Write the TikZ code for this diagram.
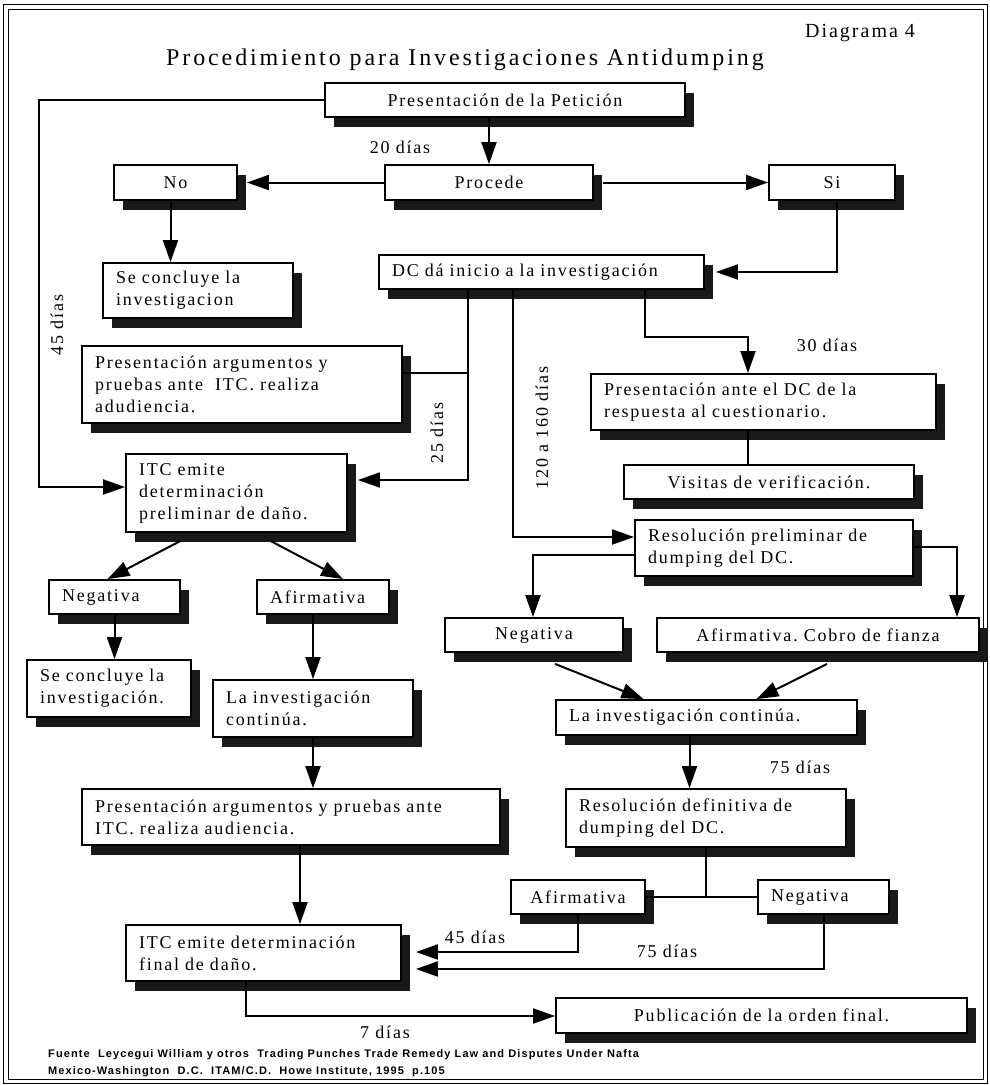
\documentclass[tikz,border=0pt]{standalone}
\usepackage{fontspec}
\setmainfont{Liberation Serif}
\setsansfont{Liberation Sans}
\usetikzlibrary{arrows.meta,shadows,calc}
\frenchspacing
\newcommand{\cajafont}{\fontsize{18}{22}\selectfont\addfontfeature{LetterSpace=10}}
\newcommand{\titulofont}{\fontsize{24}{28}\selectfont\addfontfeature{LetterSpace=12}}
\newcommand{\piefont}{\sffamily\bfseries\fontsize{11}{17}\selectfont\addfontfeature{LetterSpace=10}}
\tikzset{
  caja/.style={draw, line width=1.8pt, fill=white, inner xsep=13pt, inner ysep=0pt,
    drop shadow={shadow xshift=9pt, shadow yshift=-10pt, fill=black!90, opacity=1},
    font=\cajafont},
  flecha/.style={draw, line width=2pt, -{Triangle[length=22pt,width=15pt]}},
  linea/.style={draw, line width=2pt},
  dias/.style={font=\cajafont, inner sep=0pt}
}
\begin{document}
\begin{tikzpicture}[x=1pt,y=-1pt]
\useasboundingbox (0,0) rectangle (990,1085);
\draw[line width=1pt] (3,4) rectangle (987,1083);
\draw[line width=0.8pt] (8,9) rectangle (983,1079);

\node[font=\fontsize{20}{24}\selectfont\addfontfeature{LetterSpace=10}] (diag) at (860,33) {Diagrama 4};
\node[font=\titulofont] (titulo) at (465,60) {Procedimiento para Investigaciones Antidumping};

% cajas
\node[caja, text width=334pt, minimum height=34pt, align=center] (pet) at (505,100) {Presentación de la Petición};
\node[caja, text width=97pt, minimum height=35pt, align=center] (no) at (175.5,182.5) {No};
\node[caja, text width=182pt, minimum height=35pt, align=center] (proc) at (489,182.5) {Procede};
\node[caja, text width=100pt, minimum height=35pt, align=center] (si) at (832,182.5) {Si};
\node[caja, text width=164pt, minimum height=55pt, align=left] (conc1) at (198,290.5) {Se concluye la\\investigacion};
\node[caja, text width=299pt, minimum height=34pt, align=left] (dc) at (541.5,272) {DC dá inicio a la investigación};
\node[caja, text width=294pt, minimum height=77pt, align=left] (arg1) at (242,384.5) {Presentación argumentos y\\pruebas ante\ \ ITC. realiza\\adudiencia.};
\node[caja, text width=195pt, minimum height=78pt, align=left] (itc1) at (236.5,493) {ITC emite\\determinación\\preliminar de daño.};
\node[caja, text width=319pt, minimum height=56pt, align=left] (resp) at (763.5,402) {Presentación ante el DC de la\\respuesta al cuestionario.};
\node[caja, text width=264pt, minimum height=34pt, align=center] (vis) at (769,482) {Visitas de verificación.};
\node[caja, text width=252pt, minimum height=56pt, align=left] (res1) at (774,548) {Resolución preliminar de\\dumping del DC.};
\node[caja, text width=105pt, minimum height=34pt, align=left] (neg1) at (114.5,597) {Negativa};
\node[caja, text width=106pt, minimum height=34pt, align=left] (afi1) at (323,597) {Afirmativa};
\node[caja, text width=138pt, minimum height=57pt, align=left] (conc2) at (109,688.5) {Se concluye la\\investigación.};
\node[caja, text width=174pt, minimum height=57pt, align=left] (cont1) at (313,708.5) {La investigación\\continúa.};
\node[caja, text width=152pt, minimum height=34pt, align=center] (neg2) at (534,635) {Negativa};
\node[caja, text width=296pt, minimum height=34pt, align=center] (afi2) at (818,635) {Afirmativa. Cobro de fianza};
\node[caja, text width=275pt, minimum height=35pt, align=left] (cont2) at (706.5,717.5) {La investigación continúa.};
\node[caja, text width=392pt, minimum height=56pt, align=left] (arg2) at (291,817) {Presentación argumentos y pruebas ante\\ITC. realiza audiencia.};
\node[caja, text width=254pt, minimum height=58pt, align=left] (res2) at (706,818) {Resolución definitiva de\\dumping del DC.};
\node[caja, text width=108pt, minimum height=34pt, align=center] (afi3) at (578,897) {Afirmativa};
\node[caja, text width=105pt, minimum height=34pt, align=left] (neg3) at (823.5,897) {Negativa};
\node[caja, text width=249pt, minimum height=56pt, align=left] (itc2) at (263.5,953) {ITC emite determinación\\final de daño.};
\node[caja, text width=385pt, minimum height=35pt, align=center] (pub) at (761.5,1015.5) {Publicación de la orden final.};

% puntos de quiebre
\coordinate (k1) at (39,487);
\coordinate (k2) at (837,272);
\coordinate (k3) at (468,480);
\coordinate (k4) at (468,373);
\coordinate (k5) at (513,537);
\coordinate (k6) at (645,337);
\coordinate (k7) at (748,337);
\coordinate (k8) at (533,555);
\coordinate (k9) at (957,547);
\coordinate (k15) at (578,952);
\coordinate (k16) at (824,969);
\coordinate (k17) at (246,1016);
\coordinate (dcs) at ($(dc.east)+(11,0)$);
\coordinate (itc1s) at ($(itc1.east)+(10,0)$);
\coordinate (itc2s) at ($(itc2.east)+(14,0)$);

% conectores
\draw[flecha] (pet.west) -| (k1) -- (k1 -| itc1.west);
\draw[flecha] (pet.south -| proc.north) -- (proc.north);
\draw[flecha] (proc.west) -- ($(no.east)+(9,0)$);
\draw[flecha] ($(proc.east)+(9,0)$) -- (si.west);
\draw[flecha] ($(no.south)+(-5,0)$) coordinate (k0) -- (k0 |- conc1.north);
\draw[flecha] (si.south -| k2) -- (k2) -- (dcs);
\draw[flecha] (dc.south -| k3) -- (k3) -- (k3 -| itc1s);
\draw[linea] (k4 -| arg1.east) -- (k4);
\draw[flecha] (dc.south -| k5) -- (k5) -- (k5 -| res1.west);
\draw[flecha] (dc.south -| k6) -- (k6) -- (k7) -- (k7 |- resp.north);
\draw[linea] (k7 |- resp.south) -- (k7 |- vis.north);
\draw[flecha] (k8 -| res1.west) -- (k8) -- (k8 |- neg2.north);
\draw[flecha] (k9 -| res1.east) -- (k9) -- (k9 |- afi2.north);
\draw[flecha] ($(itc1.south)+(-56,8)$) -- ($(neg1.north)+(-7,0)$);
\draw[flecha] ($(itc1.south)+(34,8)$) -- ($(afi1.north)+(20,0)$);
\draw[flecha] (neg1.south) -- (neg1.south |- conc2.north);
\draw[flecha] (cont1.north |- afi1.south) -- (cont1.north);
\draw[flecha] ($(neg2.south)+(21,11)$) -- ($(cont2.north)+(-63,0)$);
\draw[flecha] ($(afi2.south)+(9,11)$) -- ($(cont2.north)+(50,0)$);
\draw[flecha] (cont1.south) -- (cont1.south |- arg2.north);
\draw[flecha] ($(cont2.south)+(-17,0)$) coordinate (k13) -- (k13 |- res2.north);
\draw[linea] (res2.south) -- (res2.south |- afi3.east);
\draw[linea] (afi3.east) -- (neg3.west);
\draw[flecha] ($(arg2.south)+(9,0)$) coordinate (k12) -- (k12 |- itc2.north);
\draw[flecha] (afi3.south) -- (k15) -- (k15 -| itc2s);
\draw[flecha] (neg3.south -| k16) -- (k16) -- (k16 -| itc2s);
\draw[flecha] (itc2.south -| k17) -- (k17) -- (k17 -| pub.west);

% plazos
\node[dias] (d20) at (400,147) {20 días};
\node[dias, rotate=90] (d45a) at (57,325) {45 días};
\node[dias, rotate=90] (d25) at (437,433) {25 días};
\node[dias, rotate=90] (d120) at (542,428) {120 a 160 días};
\node[dias] (d30) at (827,345) {30 días};
\node[dias] (d75a) at (800,767) {75 días};
\node[dias] (d45b) at (475,937) {45 días};
\node[dias] (d75b) at (667,951) {75 días};
\node[dias] (d7) at (385,1032) {7 días};

% fuente
\node[anchor=west, font=\piefont, align=left, inner sep=0pt] (fuente) at (48,1063) {Fuente\ \ Leycegui William y otros\ \ Trading Punches Trade Remedy Law and Disputes Under Nafta\\Mexico-Washington\ \ D.C.\ \ ITAM/C.D.\ \ Howe Institute, 1995\ \ p.105};
\end{tikzpicture}
\end{document}
